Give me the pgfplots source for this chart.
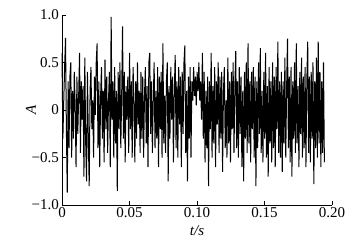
\documentclass[border=0pt]{standalone}
\usepackage{pgfplots}
\pgfplotsset{compat=1.18}
\usepackage{fontspec}
\setmainfont{Liberation Serif}
\begin{document}
\begin{tikzpicture}
\begin{axis}[
  scale only axis, width=270pt, height=190pt,
  xmin=0, xmax=0.2, ymin=-1, ymax=1,
  axis x line*=bottom, axis y line*=left,
  axis line style={line width=0.6pt},
  xtick={0,0.05,0.1,0.15,0.2}, xticklabels={0,0.05,0.10,0.15,0.20},
  ytick={-1,-0.5,0,0.5,1}, yticklabels={−1.0,−0.5,0,0.5,1.0},
  tick align=inside, major tick length=4pt,
  tick style={line width=0.6pt, black},
  tick label style={font=\fontsize{15}{15}\selectfont},
  yticklabel style={inner xsep=3pt},
  xticklabel style={inner ysep=2pt},
  xlabel={\textit{t/s}}, ylabel={\textit{A}},
  label style={font=\fontsize{15}{15}\selectfont},
  xlabel style={at={(axis description cs:0.5,0)}, anchor=center, yshift=-26pt},
  ylabel style={at={(axis description cs:0,0.5)}, anchor=center, yshift=31pt},
  clip=false,
]
\addplot[black, line width=1pt, mark=none, line join=bevel] table[x expr=\coordindex*0.00065, y index=0] {
0.6
-0.3
0.1
0.45
0.76
-0.2
-0.87
0.3
-0.4
0.35
0.5
-0.5
0.2
-0.3
0.4
0.05
-0.6
0.35
-0.25
0.15
0.6
-0.45
0.3
-0.1
0.25
-0.7
0.55
-0.35
-0.75
0.4
-0.3
-0.8
0.2
0.45
-0.2
0.1
-0.5
0.35
-0.05
0.5
0.7
-0.4
0.3
-0.6
0.15
0.45
-0.3
0.2
-0.55
0.53
-0.2
0.35
-0.45
0.1
0.4
-0.6
0.98
-0.1
0.3
-0.5
0.45
-0.35
0.2
-0.85
0.4
-0.2
0.5
-0.4
0.15
0.88
-0.3
0.4
-0.55
0.25
-0.1
0.35
-0.45
0.6
-0.2
0.3
-0.5
0.45
0.1
-0.55
0.3
-0.3
0.5
-0.15
0.2
-0.45
0.4
-0.3
0.35
-0.5
0.15
0.45
-0.35
0.25
-0.6
0.5
0.6
-0.25
0.3
-0.45
0.1
0.5
-0.4
0.2
-0.3
0.45
-0.6
0.35
-0.2
0.4
-0.5
0.7
-0.35
0.15
-0.45
0.3
0.5
-0.75
0.25
-0.3
0.45
-0.1
0.35
-0.55
0.2
0.58
-0.4
0.3
-0.5
0.45
-0.15
0.35
-0.6
0.4
-0.25
0.5
0.68
-0.45
0.2
-0.75
0.35
-0.3
0.45
-0.5
0.3
0.1
0.45
0.15
0.35
0.05
0.4
0.2
0.5
0.1
0.3
-0.1
0.6
-0.3
0.4
-0.55
0.2
-0.4
0.35
-0.8
0.3
-0.2
0.6
-0.5
0.25
-0.35
0.45
-0.6
0.3
-0.15
0.5
-0.45
0.35
-0.3
0.4
-0.65
0.2
0.45
-0.4
0.1
-0.5
0.55
-0.35
0.3
-0.55
0.4
-0.2
0.5
-0.45
0.25
0.62
-0.4
0.3
-0.5
0.45
-0.25
0.35
-0.6
0.2
-0.75
0.4
-0.3
0.5
-0.45
0.7
-0.35
0.3
-0.55
0.4
-0.2
0.45
-0.5
0.35
-0.8
0.3
-0.4
0.5
-0.25
0.65
-0.45
0.2
-0.55
0.4
-0.3
0.6
-0.5
0.25
-0.7
0.45
-0.35
0.3
-0.55
0.5
-0.4
0.35
-0.6
0.45
-0.2
0.72
-0.45
0.3
-0.5
0.4
-0.65
0.3
-0.35
0.55
-0.5
0.25
0.75
-0.4
0.35
-0.55
0.45
-0.7
0.3
-0.3
0.5
-0.45
0.7
-0.35
0.25
-0.6
0.4
-0.25
0.55
-0.5
0.35
-0.4
0.45
-0.6
0.3
0.72
-0.45
0.35
-0.55
0.4
-0.3
0.5
-0.78
0.3
-0.4
0.55
-0.5
0.72
-0.35
0.4
-0.6
0.3
-0.45
0.5
-0.55
};
\coordinate (bbsw) at (rel axis cs:0,0);
\coordinate (bbne) at (rel axis cs:1,1);
\end{axis}
\pgfresetboundingbox
\path[use as bounding box] ([xshift=-62pt,yshift=-35pt]bbsw) rectangle ([xshift=23pt,yshift=15pt]bbne);
\end{tikzpicture}
\end{document}
